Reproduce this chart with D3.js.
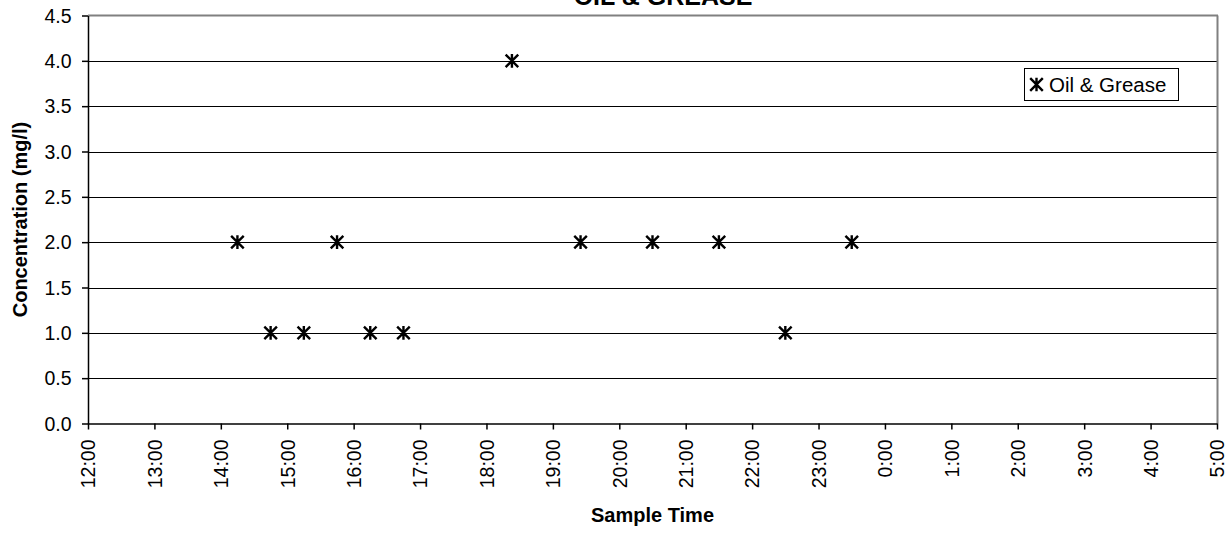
<!DOCTYPE html>
<html><head><meta charset="utf-8">
<script src="https://cdn.jsdelivr.net/npm/d3@7"></script>
<style>body{margin:0;background:#fff}svg{display:block}text{font-family:Arial,"Liberation Sans",sans-serif}</style>
</head><body><svg id="c" width="1228" height="533"></svg>
<script>
// Data: sample time and concentration in mg/l
const sampleTimes = ["14:15","14:45","15:15","15:45","16:15","16:45","18:23","19:25","20:30","21:30","22:30","23:30"];
const concentrations = [2.0,1.0,1.0,2.0,1.0,1.0,4.0,2.0,2.0,2.0,1.0,2.0];
const xTickLabels = ["12:00","13:00","14:00","15:00","16:00","17:00","18:00","19:00","20:00","21:00","22:00","23:00","0:00","1:00","2:00","3:00","4:00","5:00"];
const yTicks = [0,0.5,1,1.5,2,2.5,3,3.5,4,4.5];
const seriesName = "Oil & Grease";
const title = "OIL & GREASE";

function toHours(s){const [h,m]=s.split(":").map(Number);let v=h+m/60-12;if(v<0)v+=24;return v;}

const svg = d3.select("#c");
const L=88,R=1217,T=15.5,B=423.5;
const x = d3.scaleLinear().domain([0,17]).range([L,R]);
const y = d3.scaleLinear().domain([0,4.5]).range([B,T]);

// gridlines
svg.append("g").selectAll("line").data(yTicks.slice(1,-1)).join("line")
  .attr("x1",L).attr("x2",R).attr("y1",d=>Math.round(y(d))+0.5).attr("y2",d=>Math.round(y(d))+0.5)
  .attr("stroke","#000").attr("stroke-width",1);
// top/right border grey
svg.append("line").attr("x1",L).attr("x2",R+1).attr("y1",15.5).attr("y2",15.5).attr("stroke","#808080").attr("stroke-width",2);
svg.append("line").attr("x1",R+0.5).attr("x2",R+0.5).attr("y1",T).attr("y2",B).attr("stroke","#808080").attr("stroke-width",2);

// axes
const yAxis = d3.axisLeft(y).tickValues(yTicks).tickFormat(d3.format(".1f")).tickSize(6).tickSizeOuter(0);
const gy = svg.append("g").attr("transform",`translate(${L},0)`).call(yAxis);
gy.selectAll("text").attr("font-size",19.5).attr("fill","#000").attr("x",-16.5).attr("dy","0.35em");
gy.selectAll("line,path").attr("stroke","#000").attr("stroke-width",1.5);

const xAxis = d3.axisBottom(x).tickValues(d3.range(0,18)).tickFormat(i=>xTickLabels[i]).tickSize(6).tickSizeOuter(0);
const gx = svg.append("g").attr("transform",`translate(0,${B})`).call(xAxis);
gx.selectAll("line,path").attr("stroke","#000").attr("stroke-width",1.5);
gx.selectAll("text").attr("font-size",19.5).attr("fill","#000")
  .attr("transform","rotate(-90)").attr("text-anchor","end").attr("x",-16).attr("y",0).attr("dy","0.35em");

// markers (asterisk)
function star(g,cx,cy){
  const s=6.3;
  g.append("path").attr("d",`M${cx-s},${cy-s}L${cx+s},${cy+s}M${cx-s},${cy+s}L${cx+s},${cy-s}M${cx},${cy-s-0.5}L${cx},${cy+s+0.5}`)
   .attr("stroke","#000").attr("stroke-width",2.4).attr("fill","none");
}
const pts = svg.append("g");
sampleTimes.forEach((t,i)=>star(pts,x(toHours(t)),y(concentrations[i])));

// title & axis labels
svg.append("text").attr("x",663).attr("y",5).attr("text-anchor","middle").attr("font-weight","bold").attr("font-size",25).text(title);
svg.append("text").attr("x",(L+R)/2).attr("y",522).attr("text-anchor","middle").attr("font-weight","bold").attr("font-size",20).text("Sample Time");
svg.append("text").attr("transform",`translate(27,${(T+B)/2}) rotate(-90)`).attr("text-anchor","middle").attr("font-weight","bold").attr("font-size",20).text("Concentration (mg/l)");

// legend
const lg = svg.append("g");
lg.append("rect").attr("x",1024.5).attr("y",68.5).attr("width",154).attr("height",32).attr("fill","#fff").attr("stroke","#000").attr("stroke-width",1);
star(lg,1036.5,84.5);
lg.append("text").attr("x",1049).attr("y",92).attr("font-size",20.5).text(seriesName);
</script></body></html>
